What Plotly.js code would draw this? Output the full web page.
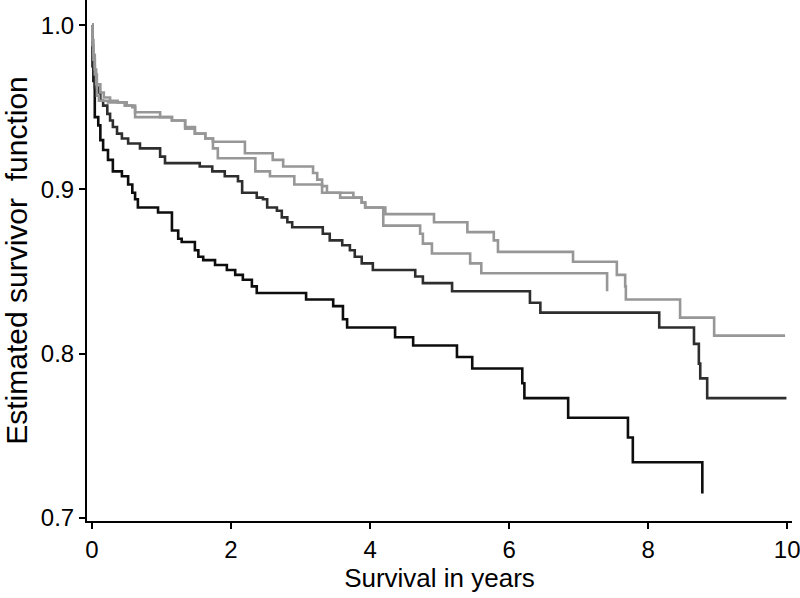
<!DOCTYPE html>
<html>
<head>
<meta charset="utf-8">
<script src="https://cdn.plot.ly/plotly-3.0.1.min.js"></script>
<style>
html,body{margin:0;padding:0;background:#fff;}
#chart{width:800px;height:598px;}
</style>
</head>
<body>
<div id="chart"></div>
<script>
// Kaplan-Meier step curves (time in years, estimated survivor function)
const timeA = [0, 0.007, 0.02, 0.04, 0.07, 0.12, 0.17, 0.26, 0.37, 0.47, 0.58, 0.62, 0.98, 1.15, 1.34, 1.48, 1.63, 1.74, 2.20, 2.60, 2.75, 3.18, 3.24, 3.31, 3.38, 3.76, 3.88, 3.93, 4.22, 4.92, 5.40, 5.78, 5.84, 6.92, 7.55, 7.67, 7.68, 8.46, 8.95, 9.97];
const survA = [1.0, 0.988, 0.979, 0.970, 0.964, 0.959, 0.956, 0.954, 0.953, 0.951, 0.950, 0.947, 0.944, 0.942, 0.938, 0.934, 0.931, 0.929, 0.922, 0.918, 0.914, 0.910, 0.906, 0.902, 0.898, 0.895, 0.892, 0.889, 0.885, 0.880, 0.874, 0.869, 0.862, 0.856, 0.848, 0.841, 0.833, 0.822, 0.811, 0.811];

const timeB = [0, 0.007, 0.02, 0.04, 0.06, 0.07, 0.10, 0.23, 0.50, 0.62, 1.15, 1.34, 1.48, 1.63, 1.74, 1.81, 2.35, 2.56, 2.91, 3.31, 3.57, 3.88, 3.93, 4.19, 4.72, 4.76, 4.89, 5.44, 5.60, 7.41, 7.41];
const survB = [1.0, 0.991, 0.982, 0.973, 0.964, 0.957, 0.954, 0.953, 0.951, 0.944, 0.942, 0.937, 0.934, 0.931, 0.925, 0.919, 0.911, 0.908, 0.903, 0.898, 0.895, 0.892, 0.889, 0.878, 0.873, 0.867, 0.861, 0.855, 0.849, 0.849, 0.838];

const timeC = [0, 0.01, 0.04, 0.09, 0.12, 0.16, 0.22, 0.26, 0.30, 0.36, 0.43, 0.52, 0.69, 0.98, 1.05, 1.55, 1.73, 1.91, 2.10, 2.16, 2.37, 2.46, 2.52, 2.66, 2.73, 2.81, 2.88, 3.32, 3.42, 3.60, 3.71, 3.78, 3.88, 4.04, 4.65, 4.76, 5.18, 6.30, 6.45, 8.16, 8.66, 8.73, 8.75, 8.85, 9.99];
const survC = [1.0, 0.975, 0.962, 0.959, 0.954, 0.951, 0.946, 0.942, 0.938, 0.934, 0.931, 0.928, 0.925, 0.920, 0.916, 0.914, 0.911, 0.908, 0.905, 0.898, 0.895, 0.894, 0.889, 0.887, 0.883, 0.880, 0.877, 0.873, 0.869, 0.866, 0.863, 0.859, 0.855, 0.851, 0.847, 0.843, 0.838, 0.831, 0.825, 0.816, 0.806, 0.794, 0.785, 0.773, 0.773];

const timeD = [0, 0.01, 0.02, 0.04, 0.09, 0.12, 0.16, 0.23, 0.30, 0.43, 0.52, 0.58, 0.62, 0.66, 0.95, 1.15, 1.24, 1.29, 1.48, 1.53, 1.60, 1.77, 1.94, 2.06, 2.17, 2.30, 2.37, 3.08, 3.47, 3.61, 3.67, 4.36, 4.62, 5.25, 5.47, 6.19, 6.22, 6.85, 7.71, 7.78, 8.78, 8.78];
const survD = [1.0, 0.975, 0.966, 0.944, 0.939, 0.930, 0.924, 0.918, 0.911, 0.908, 0.903, 0.898, 0.894, 0.889, 0.886, 0.875, 0.870, 0.868, 0.863, 0.859, 0.857, 0.854, 0.851, 0.848, 0.845, 0.841, 0.837, 0.833, 0.829, 0.821, 0.816, 0.810, 0.805, 0.798, 0.791, 0.782, 0.773, 0.761, 0.749, 0.734, 0.734, 0.715];

const yTicks = [0.7, 0.8, 0.9, 1.0];
const yTickText = ["0.7", "0.8", "0.9", "1.0"];
const xTicks = [0, 2, 4, 6, 8, 10];

const FONT = "Liberation Sans, Arial, Helvetica, sans-serif";

function curve(x, y, color) {
  return {x: x, y: y, type: 'scatter', mode: 'lines',
          line: {shape: 'hv', color: color, width: 2.6},
          hoverinfo: 'skip', showlegend: false};
}

const traces = [
  curve(timeD, survD, '#0d0d0d'),
  curve(timeC, survC, '#2e2e2e'),
  curve(timeB, survB, '#979797'),
  curve(timeA, survA, '#979797')
];

const layout = {
  width: 800, height: 598,
  margin: {l: 87, r: 8, t: 0, b: 77, pad: 0},
  paper_bgcolor: '#fff', plot_bgcolor: '#fff',
  font: {family: FONT, color: '#000', size: 24},
  showlegend: false,
  xaxis: {
    range: [-0.072, 10.07], tickvals: xTicks, ticktext: xTicks.map(String),
    showgrid: false, zeroline: false, showline: true, linecolor: '#000', linewidth: 2,
    ticks: 'outside', ticklen: 6, tickwidth: 2, tickcolor: '#000',
    tickfont: {family: FONT, size: 24, color: '#000'},
    ticklabeloverflow: 'allow',
    title: {text: 'Survival in years', font: {family: FONT, size: 26, color: '#000'}, standoff: 4},
    automargin: false
  },
  yaxis: {
    range: [0.6982, 1.0153], tickvals: yTicks, ticktext: yTickText,
    showgrid: false, zeroline: false, showline: true, linecolor: '#000', linewidth: 2,
    ticks: 'outside', ticklen: 6, tickwidth: 2, tickcolor: '#000',
    tickfont: {family: FONT, size: 24, color: '#000'},
    title: {text: 'Estimated survivor  function', font: {family: FONT, size: 30, color: '#000'}, standoff: 21},
    automargin: false
  }
};

Plotly.newPlot('chart', traces, layout, {displayModeBar: false, staticPlot: true});
</script>
</body>
</html>
